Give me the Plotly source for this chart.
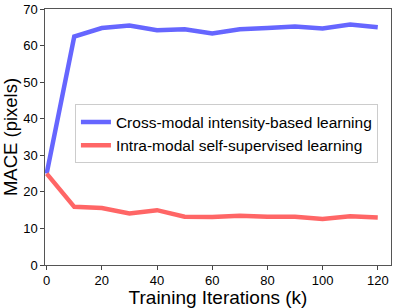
import plotly.graph_objects as go

iters = [0, 10, 20, 30, 40, 50, 60, 70, 80, 90, 100, 110, 120]
cross_modal = [25.0, 62.5, 64.8, 65.5, 64.2, 64.5, 63.3, 64.5, 64.8, 65.2, 64.7, 65.8, 65.0]
intra_modal = [25.0, 15.9, 15.6, 14.1, 15.0, 13.2, 13.1, 13.5, 13.2, 13.2, 12.6, 13.3, 13.0]
x_ticks = [0, 20, 40, 60, 80, 100, 120]
y_ticks = [0, 10, 20, 30, 40, 50, 60, 70]

fig = go.Figure()
fig.add_trace(go.Scatter(x=iters, y=cross_modal, mode="lines",
                         name="Cross-modal intensity-based learning",
                         line=dict(color="rgb(102,102,255)", width=4.5)))
fig.add_trace(go.Scatter(x=iters, y=intra_modal, mode="lines",
                         name="Intra-modal self-supervised learning",
                         line=dict(color="rgb(255,102,102)", width=4.5)))

font = "Liberation Sans, Arial, Helvetica, sans-serif"
axis_common = dict(showgrid=False, zeroline=False, showline=True, mirror=True,
                   linecolor="#555", linewidth=1.3, ticks="outside", ticklen=3.5,
                   tickcolor="#444", ticklabeloverflow="allow",
                   tickfont=dict(size=13, color="black", family=font))
fig.update_xaxes(range=[-0.6, 124.8], tickvals=x_ticks,
                 title=dict(text="Training Iterations (k)", font=dict(size=19, color="black", family=font), standoff=1),
                 **axis_common)
fig.update_yaxes(range=[0, 70.02], tickvals=y_ticks,
                 title=dict(text="MACE (pixels)", font=dict(size=18.5, color="black", family=font), standoff=3),
                 **axis_common)
fig.update_layout(width=394, height=308, margin=dict(l=45, r=2, t=5, b=43),
                  plot_bgcolor="white", paper_bgcolor="white",
                  font=dict(family=font, color="black"),
                  legend=dict(x=0.0865, y=0.627, xanchor="left", yanchor="top",
                              bgcolor="white", bordercolor="#ccc", borderwidth=1,
                              font=dict(size=15.5, color="black", family=font),
                              tracegroupgap=0, itemwidth=30))
fig.write_html("out.html", config={"displayModeBar": False},
               post_script="document.body.style.margin='0';document.body.style.overflow='hidden';")
